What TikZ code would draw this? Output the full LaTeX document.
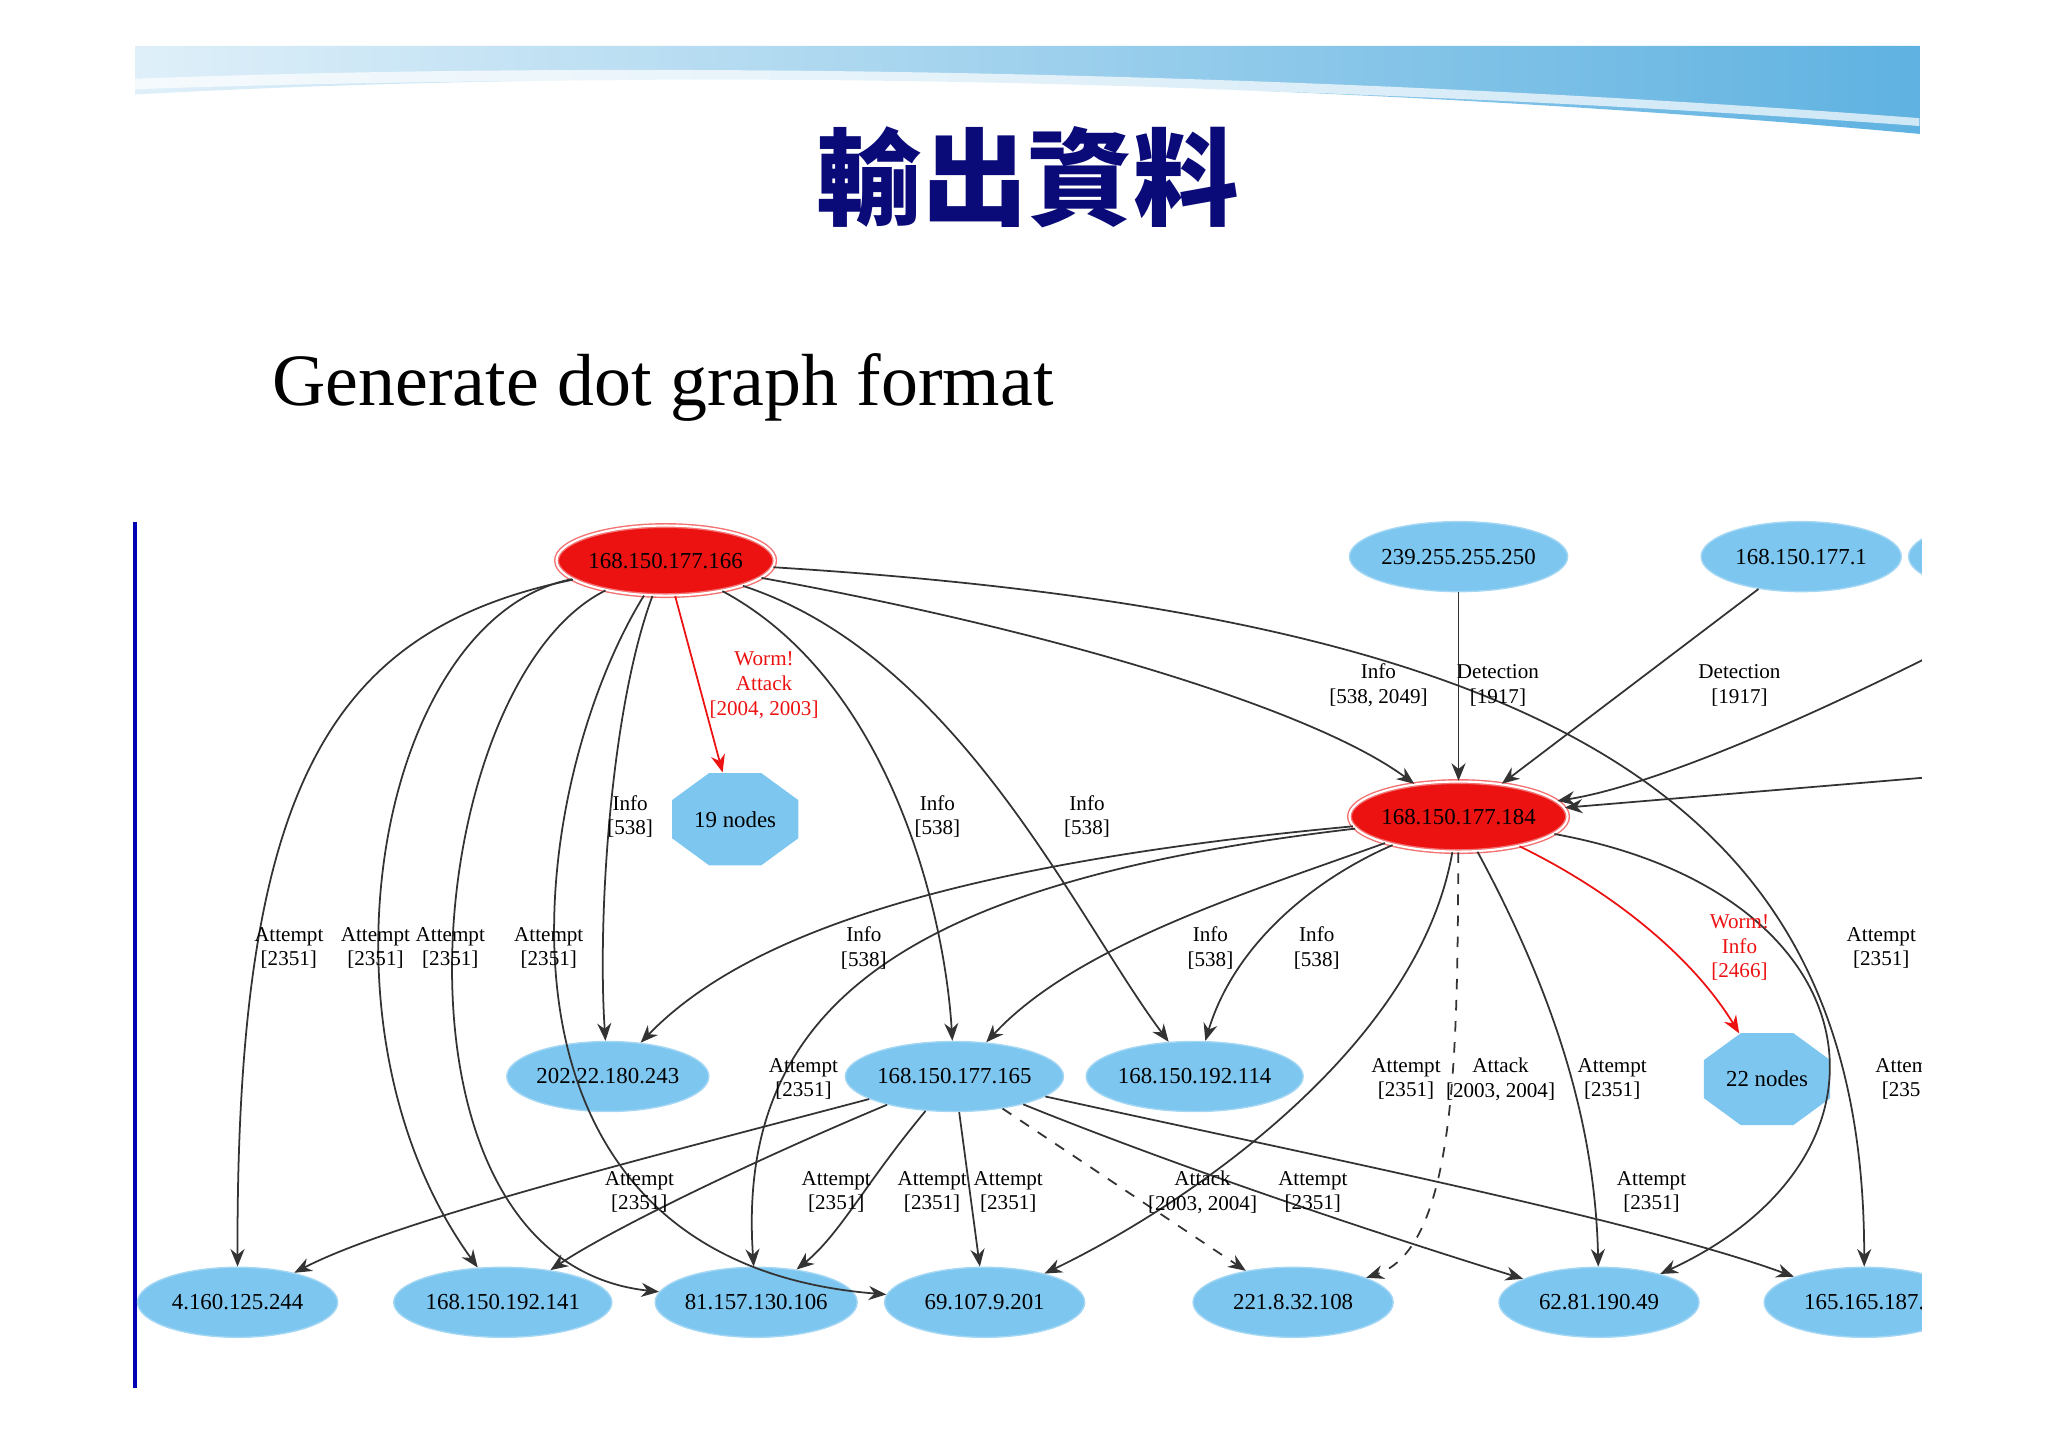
\documentclass[tikz,border=0pt]{standalone}
\usepackage{fontspec}
\setmainfont{Liberation Serif}
\newfontfamily\cjk{Noto Sans CJK TC}
\usetikzlibrary{shapes.geometric,arrows.meta}
\definecolor{nblue}{RGB}{125,198,240}
\definecolor{bann}{RGB}{95,178,225}
\definecolor{nred}{RGB}{236,18,18}
\definecolor{navy}{RGB}{10,10,120}
\tikzset{
 bn/.style={ellipse,fill=nblue,draw=nblue!70!white,minimum width=2.0cm,minimum height=0.7cm,inner sep=0pt,font=\fontsize{6.5}{7}\selectfont},
 rn/.style={bn,fill=nred,draw=nred!60!white,double=white,double distance=0.6pt},
 on/.style={regular polygon,regular polygon sides=8,fill=nblue,inner sep=0pt,minimum size=1.05cm,xscale=1.3,yscale=0.95},
 lab/.style={align=center,font=\fontsize{6}{7}\selectfont,inner sep=0pt},
 rlab/.style={lab,text=nred},
 ed/.style={draw=black!80,line width=0.5pt,-{Stealth[length=5pt,width=4pt]}},
 red/.style={ed,draw=nred},
}
\begin{document}
\begin{tikzpicture}[x=0.01313cm,y=-0.01313cm]
\useasboundingbox (0,0) rectangle (1560,1102);
% banner
\shade[left color=bann!20!white,right color=bann] (103,35) -- (1462,35) -- (1462,102) .. controls (1000,60) and (500,50) .. (103,72) -- cycle;
\fill[white,opacity=0.7] (103,60) .. controls (500,45) and (1000,55) .. (1462,90) -- (1462,96) .. controls (1000,62) and (500,54) .. (103,68) -- cycle;
\node[font=\cjk\bfseries\fontsize{30}{32}\selectfont,text=navy] (title) at (783,135) {輸出資料};
\node[anchor=west,font=\fontsize{21}{24}\selectfont] (sub) at (198,295) {Generate dot graph format};
\draw[blue!70!black,line width=1.2pt] (103,398) -- (103,1057);
\begin{scope}
\clip (104,380) rectangle (1464,1065);
\node[rn] (A) at (507,427) {168.150.177.166};
\node[bn] (B) at (1111,424) {239.255.255.250};
\node[bn] (C) at (1372,424) {168.150.177.1};
\node[bn] (X) at (1530,424) {};
\node[rn] (D) at (1111,622) {168.150.177.184};
\node[on] (E) at (560,624) {};
\node[lab,font=\fontsize{6.5}{7}\selectfont] (Et) at (560,624) {19 nodes};
\node[bn] (F) at (463,820) {202.22.180.243};
\node[bn] (G) at (727,820) {168.150.177.165};
\node[bn] (H) at (910,820) {168.150.192.114};
\node[on] (I) at (1346,822) {};
\node[lab,font=\fontsize{6.5}{7}\selectfont] (It) at (1346,822) {22 nodes};
\node[bn] (N1) at (181,992) {4.160.125.244};
\node[bn] (N2) at (383,992) {168.150.192.141};
\node[bn] (N3) at (576,992) {81.157.130.106};
\node[bn] (N4) at (750,992) {69.107.9.201};
\node[bn] (N5) at (985,992) {221.8.32.108};
\node[bn] (N6) at (1218,992) {62.81.190.49};
\node[bn] (N7) at (1420,992) {165.165.187.};
\coordinate (R1) at (1470,500);
\coordinate (R2) at (1470,592);
% edges from A
\draw[ed] (A) .. controls (250,480) and (180,600) .. (N1);
\draw[ed] (A) .. controls (290,470) and (230,780) .. (N2);
\draw[ed] (A) .. controls (320,520) and (280,960) .. (N3);
\draw[ed] (A) .. controls (400,600) and (350,960) .. (N4);
\draw[ed] (A) .. controls (465,540) and (455,700) .. (F);
\draw[red] (A) -- (E);
\draw[ed] (A) .. controls (680,520) and (720,700) .. (G);
\draw[ed] (A) .. controls (730,500) and (820,700) .. (H);
\draw[ed] (A) .. controls (800,480) and (1000,540) .. (D);
\draw[ed] (A) .. controls (1200,470) and (1420,620) .. (N7);
\draw[ed] (B) -- (D);
\draw[ed] (C) -- (D);
\draw[ed] (R1) .. controls (1350,560) and (1250,600) .. (D);
\draw[ed] (R2) -- (D);
% edges from D
\draw[ed] (D) .. controls (700,660) and (560,720) .. (F);
\draw[ed] (D) .. controls (700,670) and (560,760) .. (N3);
\draw[ed] (D) .. controls (950,680) and (820,720) .. (G);
\draw[ed] (D) .. controls (1000,670) and (940,720) .. (H);
\draw[red] (D) .. controls (1230,680) and (1290,730) .. (I);
\draw[ed] (D) .. controls (1080,800) and (900,920) .. (N4);
\draw[ed,dashed] (D) .. controls (1110,800) and (1110,950) .. (N5);
\draw[ed] (D) .. controls (1180,750) and (1215,850) .. (N6);
\draw[ed] (D) .. controls (1430,680) and (1460,880) .. (N6);
% edges from G
\draw[ed] (G) .. controls (500,880) and (300,930) .. (N1);
\draw[ed] (G) .. controls (560,890) and (460,940) .. (N2);
\draw[ed] (G) .. controls (660,900) and (640,940) .. (N3);
\draw[ed] (G) -- (N4);
\draw[ed,dashed] (G) -- (N5);
\draw[ed] (G) .. controls (900,890) and (1050,940) .. (N6);
\draw[ed] (G) .. controls (1000,880) and (1250,930) .. (N7);
% labels
\node[lab] (l1) at (220,722) {Attempt\\\relax[2351]};
\node[lab] (l2) at (286,722) {Attempt\\\relax[2351]};
\node[lab] (l3) at (343,722) {Attempt\\\relax[2351]};
\node[lab] (l4) at (418,722) {Attempt\\\relax[2351]};
\node[lab] (l5) at (480,622) {Info\\\relax[538]};
\node[rlab] (l6) at (582,522) {Worm!\\Attack\\\relax[2004, 2003]};
\node[lab] (l7) at (714,622) {Info\\\relax[538]};
\node[lab] (l8) at (828,622) {Info\\\relax[538]};
\node[lab] (l9) at (1050,522) {Info\\\relax[538, 2049]};
\node[lab] (l10) at (1141,522) {Detection\\\relax[1917]};
\node[lab] (l11) at (1325,522) {Detection\\\relax[1917]};
\node[lab] (l12) at (658,722) {Info\\\relax[538]};
\node[lab] (l13) at (922,722) {Info\\\relax[538]};
\node[lab] (l14) at (1003,722) {Info\\\relax[538]};
\node[rlab] (l15) at (1325,722) {Worm!\\Info\\\relax[2466]};
\node[lab] (l16) at (1433,722) {Attempt\\\relax[2351]};
\node[lab] (l17) at (612,822) {Attempt\\\relax[2351]};
\node[lab] (l18) at (1071,822) {Attempt\\\relax[2351]};
\node[lab] (l19) at (1143,822) {Attack\\\relax[2003, 2004]};
\node[lab] (l20) at (1228,822) {Attempt\\\relax[2351]};
\node[lab,anchor=west] (l21) at (1428,822) {Attempt\\\relax[2351]};
\node[lab] (l22) at (487,908) {Attempt\\\relax[2351]};
\node[lab] (l23) at (637,908) {Attempt\\\relax[2351]};
\node[lab] (l24) at (710,908) {Attempt\\\relax[2351]};
\node[lab] (l25) at (768,908) {Attempt\\\relax[2351]};
\node[lab] (l26) at (916,908) {Attack\\\relax[2003, 2004]};
\node[lab] (l27) at (1000,908) {Attempt\\\relax[2351]};
\node[lab] (l28) at (1258,908) {Attempt\\\relax[2351]};
\end{scope}
\end{tikzpicture}
\end{document}
